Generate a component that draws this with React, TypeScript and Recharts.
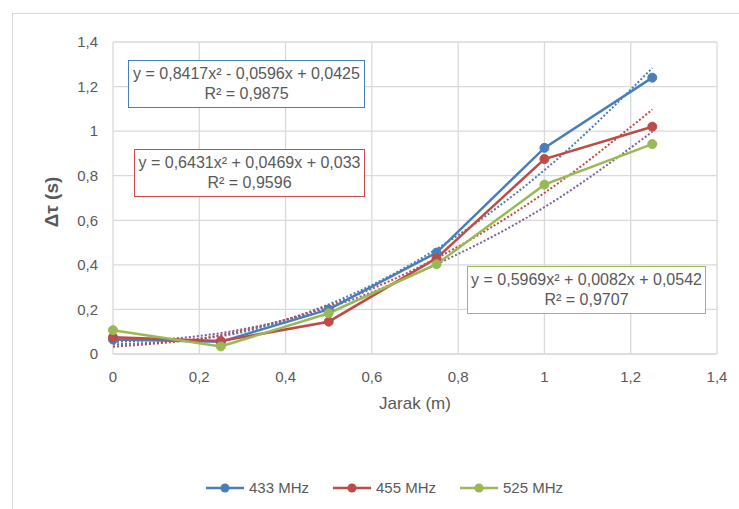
import {
  CartesianGrid,
  ComposedChart,
  Line,
  XAxis,
  YAxis,
} from 'recharts';

// Jarak (m) vs Δτ (s) for three frequencies, with dotted polynomial trendlines.

const jarak = [0, 0.25, 0.5, 0.75, 1, 1.25];

const mhz433 = [0.065, 0.055, 0.2, 0.455, 0.925, 1.24];
const mhz455 = [0.075, 0.058, 0.145, 0.43, 0.875, 1.02];
const mhz525 = [0.107, 0.034, 0.183, 0.403, 0.76, 0.942];

// dotted trendline values
const trend433 = [0.043, 0.08, 0.223, 0.471, 0.825, 1.283];
const trend455 = [0.033, 0.085, 0.217, 0.43, 0.723, 1.097];
const trend525 = [0.054, 0.094, 0.208, 0.403, 0.659, 0.997];

const ticks = [0, 0.2, 0.4, 0.6, 0.8, 1, 1.2, 1.4];

const seriesDefs = [
  { id: 'mhz433', label: '433 MHz', color: '#4a7ebb', values: mhz433 },
  { id: 'mhz455', label: '455 MHz', color: '#be4b48', values: mhz455 },
  { id: 'mhz525', label: '525 MHz', color: '#98b954', values: mhz525 },
];

const trendDefs = [
  { id: 't433', color: '#4a7ebb', values: trend433 },
  { id: 't455', color: '#be4b48', values: trend455 },
  { id: 't525', color: '#7d60a0', values: trend525 },
];

const equations = [
  { eq: 'y = 0,8417x² - 0,0596x + 0,0425', r2: 'R² = 0,9875', color: '#4a7ebb', left: 128, top: 60, width: 237 },
  { eq: 'y = 0,6431x² + 0,0469x + 0,033', r2: 'R² = 0,9596', color: '#d04a47', left: 134, top: 149, width: 231 },
  { eq: 'y = 0,5969x² + 0,0082x + 0,0542', r2: 'R² = 0,9707', color: '#9bbb59', left: 467, top: 266, width: 239 },
];

const font = '"Liberation Sans", Arial, sans-serif';
const textColor = '#595959';
const fmt = (v: number) => String(v).replace('.', ',');

const data = jarak.map((x, i) => {
  const row: Record<string, number> = { x };
  for (const s of seriesDefs) row[s.id] = s.values[i];
  for (const t of trendDefs) row[t.id] = t.values[i];
  return row;
});

function ChartLegend() {
  return (
    <div
      style={{
        position: 'absolute',
        left: 15,
        top: 479,
        width: 739,
        display: 'flex',
        justifyContent: 'center',
        gap: 24,
        fontFamily: font,
        fontSize: 15,
        color: textColor,
      }}
    >
      {seriesDefs.map((s) => (
        <div key={s.id} style={{ display: 'flex', alignItems: 'center' }}>
          <svg width={38} height={12} style={{ marginRight: 5 }}>
            <line x1={0} y1={6} x2={38} y2={6} stroke={s.color} strokeWidth={2.5} />
            <circle cx={19} cy={6} r={4.5} fill={s.color} />
          </svg>
          {s.label}
        </div>
      ))}
    </div>
  );
}

export default function App() {
  return (
    <div style={{ position: 'absolute', left: 0, top: 0, width: 739, height: 509, background: '#fff', overflow: 'hidden' }}>
      <div
        style={{
          position: 'absolute',
          left: 12,
          top: 13,
          width: 760,
          height: 520,
          borderLeft: '1.5px solid #d9d9d9',
          borderTop: '1.5px solid #d9d9d9',
        }}
      />
      <ComposedChart
        width={739}
        height={509}
        data={data}
        margin={{ top: 42, right: 22, bottom: 0, left: 0 }}
        style={{ position: 'absolute', left: 0, top: 0 }}
      >
        <CartesianGrid stroke="#d9d9d9" strokeWidth={1.3} />
        <XAxis
          type="number"
          dataKey="x"
          domain={[0, 1.4]}
          ticks={ticks}
          tickFormatter={fmt}
          tickLine={false}
          tickSize={0}
          tickMargin={17}
          height={155}
          stroke="#d9d9d9"
          tick={{ fill: textColor, fontSize: 15, fontFamily: font }}
          label={{
            value: 'Jarak (m)',
            position: 'insideTop',
            offset: 43,
            fill: textColor,
            fontSize: 17,
            fontFamily: font,
          }}
        />
        <YAxis
          type="number"
          domain={[0, 1.4]}
          ticks={ticks}
          tickFormatter={fmt}
          tickLine={false}
          axisLine={false}
          tickSize={0}
          tickMargin={15}
          width={113}
          tick={{ fill: textColor, fontSize: 15, fontFamily: font }}
          label={{
            content: () => (
              <text
                x={58}
                y={202}
                transform="rotate(-90 58 202)"
                textAnchor="middle"
                fill={textColor}
                fontFamily={font}
                fontSize={19}
                fontWeight="bold"
              >
                Δτ  (s)
              </text>
            ),
          }}
        />
        {trendDefs.map((t) => (
          <Line
            key={t.id}
            dataKey={t.id}
            type="monotone"
            stroke={t.color}
            strokeWidth={2}
            strokeDasharray="2 2"
            dot={false}
            activeDot={false}
            legendType="none"
            isAnimationActive={false}
          />
        ))}
        {seriesDefs.map((s) => (
          <Line
            key={s.id}
            dataKey={s.id}
            name={s.label}
            type="linear"
            stroke={s.color}
            strokeWidth={2.5}
            dot={{ r: 4.5, fill: s.color, stroke: s.color, strokeWidth: 1 }}
            isAnimationActive={false}
          />
        ))}
      </ComposedChart>
      <ChartLegend />
      {equations.map((e) => (
        <div
          key={e.eq}
          style={{
            position: 'absolute',
            left: e.left,
            top: e.top,
            width: e.width,
            height: 48,
            boxSizing: 'border-box',
            border: `1px solid ${e.color}`,
            background: '#fff',
            fontFamily: font,
            fontSize: 16,
            color: textColor,
            textAlign: 'center',
            lineHeight: '20px',
            paddingTop: 3,
            whiteSpace: 'nowrap',
          }}
        >
          <div>{e.eq}</div>
          <div>{e.r2}</div>
        </div>
      ))}
    </div>
  );
}
